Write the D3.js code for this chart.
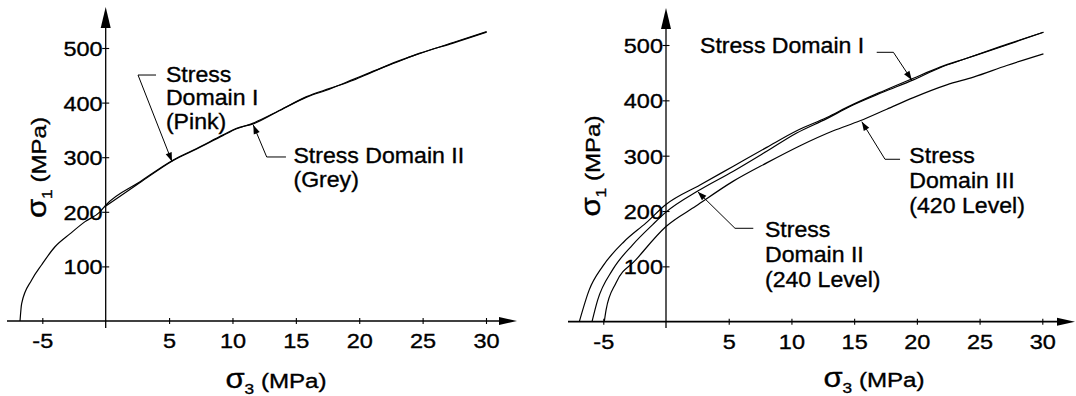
<!DOCTYPE html>
<html>
<head>
<meta charset="utf-8">
<script src="https://cdn.jsdelivr.net/npm/d3@7"></script>
<style>
  body { margin: 0; background: #fff; }
  svg { display: block; }
  text { font-family: "Liberation Sans", Arial, Helvetica, sans-serif; fill: #000; stroke: #000; stroke-width: 0.35px; }
</style>
</head>
<body>
<svg id="chart" width="1076" height="396"></svg>
<script>

// tick values (both panels share them)
var xTicks = [-5, 5, 10, 15, 20, 25, 30];
var yTicks = [100, 200, 300, 400, 500];

// left panel: domain I (pink) and domain II (grey), almost on top of each other
var leftS3_I = [-6.76, -6.63, -5.84, -5.05, -4.0, -2.8, -1.63, -0.45, 0, 2.71, 5.33, 7.18, 9.27, 10.33, 11.64, 13.75, 15.85, 17.69, 19.53, 20.84, 22.95, 24.79, 27.41, 30.05];
var leftS1_I = [0, 32, 75, 103, 136, 160, 182, 200, 212, 255, 295, 316, 341, 353, 361, 386, 411, 426, 441, 454, 475, 490, 510, 530];
var leftS3_II = [0, 2.71, 5.33, 7.18, 9.27, 10.33, 11.64, 13.75, 15.85, 17.69, 19.53, 20.84, 22.95, 24.79, 27.41, 30.05];
var leftS1_II = [210.5, 253.5, 294, 315, 340, 352, 362.5, 386, 410, 425, 442.5, 455, 474, 490.5, 509, 529];

// right panel: domain I, II (240 level), III (420 level)
var rightS3_I = [-6.91, -6.12, -5.05, -3.33, -1.59, 0, 2.71, 5.37, 8.03, 10.42, 12.82, 14.67, 17.33, 19.72, 21.85, 23.98, 26.63, 30.09];
var rightS1_I = [0, 57.5, 100, 145, 178.6, 211.8, 247, 281, 315, 345, 369, 390, 417, 440, 460, 476, 496, 523];
var rightS3_II = [-5.9, -5.45, -4.25, -2.66, -1.06, 0, 2.53, 5.37, 8.03, 10.42, 12.82, 14.67, 17.33, 19.72, 21.85, 23.98, 26.63, 30.09];
var rightS1_II = [0, 39, 94, 139, 175.5, 198, 236, 272, 308, 341, 367, 389, 415, 437, 459, 476, 497, 523];
var rightS3_III = [-4.92, -4.78, -3.99, -2.39, 0, 2.39, 5.37, 8.03, 10.69, 13.34, 15.47, 17.6, 19.72, 22.38, 24.51, 27.17, 30.09];
var rightS1_III = [0, 21, 70, 112, 172, 209, 254, 287, 318, 345, 363, 384, 405, 428, 442, 463, 484];

// callouts, in data units (sigma3, sigma1)
var leftNoteLines = [["Stress", "Domain I", "(Pink)"], ["Stress Domain II", "(Grey)"]];
var leftNoteTip = [[5.23, 292], [11.64, 359]];
var leftNoteElbow = [[2.55, 450.5], [12.7, 300.4]];
var leftNoteEnd = [[3.97, 450.5], [14.22, 300.4]];
var leftNoteText = [[4.75, 438.3], [14.81, 288.8]];

var rightNoteLines = [["Stress Domain I"], ["Stress", "Domain III", "(420 Level)"], ["Stress", "Domain II", "(240 Level)"]];
var rightNoteTip = [[19.59, 436.8], [15.61, 361.4], [2.53, 234.9]];
var rightNoteElbow = [[18.13, 486.8], [17.46, 293.5], [5.5, 168.8]];
var rightNoteEnd = [[16.8, 486.8], [18.66, 293.5], [6.96, 168.8]];
var rightNoteText = [[2.71, 485], [19.4, 286.2], [7.89, 153.6]];

function zip(a, b) { return a.map(function(d, i) { return [d, b[i]]; }); }

var svg = d3.select("#chart");

function drawPanel(p) {
  var x = d3.scaleLinear().domain([0, 30]).range([p.x0, p.x30]);
  var y = d3.scaleLinear().domain([0, 500]).range([p.y0, p.y500]);
  var g = svg.append("g");

  // axis lines with arrow heads
  g.append("line")
    .attr("x1", p.xStart).attr("x2", p.xTip - 10)
    .attr("y1", p.y0).attr("y2", p.y0)
    .attr("stroke", "#000").attr("stroke-width", 1.7);
  g.append("path")
    .attr("d", "M" + p.xTip + "," + p.y0 + "L" + (p.xTip - 18) + "," + (p.y0 - 4) + "L" + (p.xTip - 18) + "," + (p.y0 + 4) + "Z")
    .attr("fill", "#000");
  g.append("line")
    .attr("x1", p.x0).attr("x2", p.x0)
    .attr("y1", p.yBottom).attr("y2", p.yTip + 10)
    .attr("stroke", "#000").attr("stroke-width", 1.3);
  g.append("path")
    .attr("d", "M" + p.x0 + "," + p.yTip + "L" + (p.x0 - 5) + "," + (p.yTip + 21) + "L" + (p.x0 + 5) + "," + (p.yTip + 21) + "Z")
    .attr("fill", "#000");

  // ticks and labels
  var xAxis = g.append("g")
    .attr("transform", "translate(0," + p.y0 + ")")
    .call(d3.axisBottom(x).tickValues(xTicks).tickSize(3).tickFormat(function(d) { return String(d); }));
  xAxis.select(".domain").remove();
  xAxis.selectAll(".tick line").attr("y1", -3).attr("y2", 3).attr("stroke", "#000").attr("stroke-width", 1.1);
  xAxis.selectAll(".tick text")
    .attr("y", 0).attr("dy", null)
    .attr("transform", "translate(0,27) scale(1.12,1)")
    .style("font-size", "21px").attr("fill", "#000");

  var yAxis = g.append("g")
    .attr("transform", "translate(" + p.x0 + ",0)")
    .call(d3.axisLeft(y).tickValues(yTicks).tickSize(3.5));
  yAxis.select(".domain").remove();
  yAxis.selectAll(".tick line").attr("x1", -3.5).attr("x2", 3.5).attr("stroke", "#000").attr("stroke-width", 1.1);
  yAxis.selectAll(".tick text")
    .attr("x", 0).attr("dy", null)
    .attr("transform", "translate(-3,7.5) scale(1.12,1)")
    .style("font-size", "21px").attr("fill", "#000");

  // axis titles
  var xt = g.append("text")
    .attr("transform", "translate(" + p.titleX + "," + p.titleY + ") scale(1.15,1)")
    .attr("text-anchor", "middle");
  xt.append("tspan").style("font-size", "27px").text("σ");
  xt.append("tspan").style("font-size", "15px").attr("dy", 6).text("3");
  xt.append("tspan").style("font-size", "21px").attr("dy", -6).text(" (MPa)");

  var yt = g.append("text")
    .attr("transform", "translate(" + p.yTitleX + "," + p.yTitleY + ") rotate(-90) scale(1.15,1)")
    .attr("text-anchor", "middle");
  yt.append("tspan").style("font-size", "27px").text("σ");
  yt.append("tspan").style("font-size", "15px").attr("dy", 6).text("1");
  yt.append("tspan").style("font-size", "21px").attr("dy", -6).text(" (MPa)");

  // curves
  var line = d3.line()
    .x(function(d) { return x(d[0]); })
    .y(function(d) { return y(d[1]); })
    .curve(d3.curveMonotoneX);
  p.curves.forEach(function(c) {
    g.append("path")
      .attr("d", line(c))
      .attr("fill", "none")
      .attr("stroke", "#000")
      .attr("stroke-width", 1.2);
  });

  // callouts
  p.notes.lines.forEach(function(lines, i) {
    var tip = [x(p.notes.tip[i][0]), y(p.notes.tip[i][1])];
    var elb = [x(p.notes.elbow[i][0]), y(p.notes.elbow[i][1])];
    var end = [x(p.notes.end[i][0]), y(p.notes.end[i][1])];
    g.append("path")
      .attr("d", "M" + end + "L" + elb + "L" + tip)
      .attr("fill", "none").attr("stroke", "#000").attr("stroke-width", 1);
    var dx = tip[0] - elb[0], dy = tip[1] - elb[1];
    var len = Math.sqrt(dx * dx + dy * dy);
    var ux = dx / len, uy = dy / len;
    var L = 9, W = 3.2;
    var b = [tip[0] - L * ux, tip[1] - L * uy];
    g.append("path")
      .attr("d", "M" + tip + "L" + [b[0] - W * uy, b[1] + W * ux] + "L" + [b[0] + W * uy, b[1] - W * ux] + "Z")
      .attr("fill", "#000");
    var tx = x(p.notes.text[i][0]), ty = y(p.notes.text[i][1]);
    lines.forEach(function(s, k) {
      g.append("text")
        .attr("transform", "translate(" + tx + "," + (ty + k * p.lineGap) + ") scale(1.05,1)")
        .style("font-size", "22px")
        .text(s);
    });
  });
}

drawPanel({
  x0: 105.7, x30: 486, y0: 321, y500: 48,
  xStart: 7, xTip: 517, yBottom: 328, yTip: 7,
  titleX: 276, titleY: 388, yTitleX: 46, yTitleY: 167.5,
  lineGap: 23.5,
  curves: [zip(leftS3_I, leftS1_I), zip(leftS3_II, leftS1_II)],
  notes: { lines: leftNoteLines, tip: leftNoteTip, elbow: leftNoteElbow, end: leftNoteEnd, text: leftNoteText }
});

drawPanel({
  x0: 666, x30: 1042.3, y0: 321.7, y500: 45,
  xStart: 568, xTip: 1075, yBottom: 328, yTip: 8,
  titleX: 874, titleY: 387, yTitleX: 600, yTitleY: 166,
  lineGap: 25,
  curves: [zip(rightS3_I, rightS1_I), zip(rightS3_II, rightS1_II), zip(rightS3_III, rightS1_III)],
  notes: { lines: rightNoteLines, tip: rightNoteTip, elbow: rightNoteElbow, end: rightNoteEnd, text: rightNoteText }
});

</script>
</body>
</html>
